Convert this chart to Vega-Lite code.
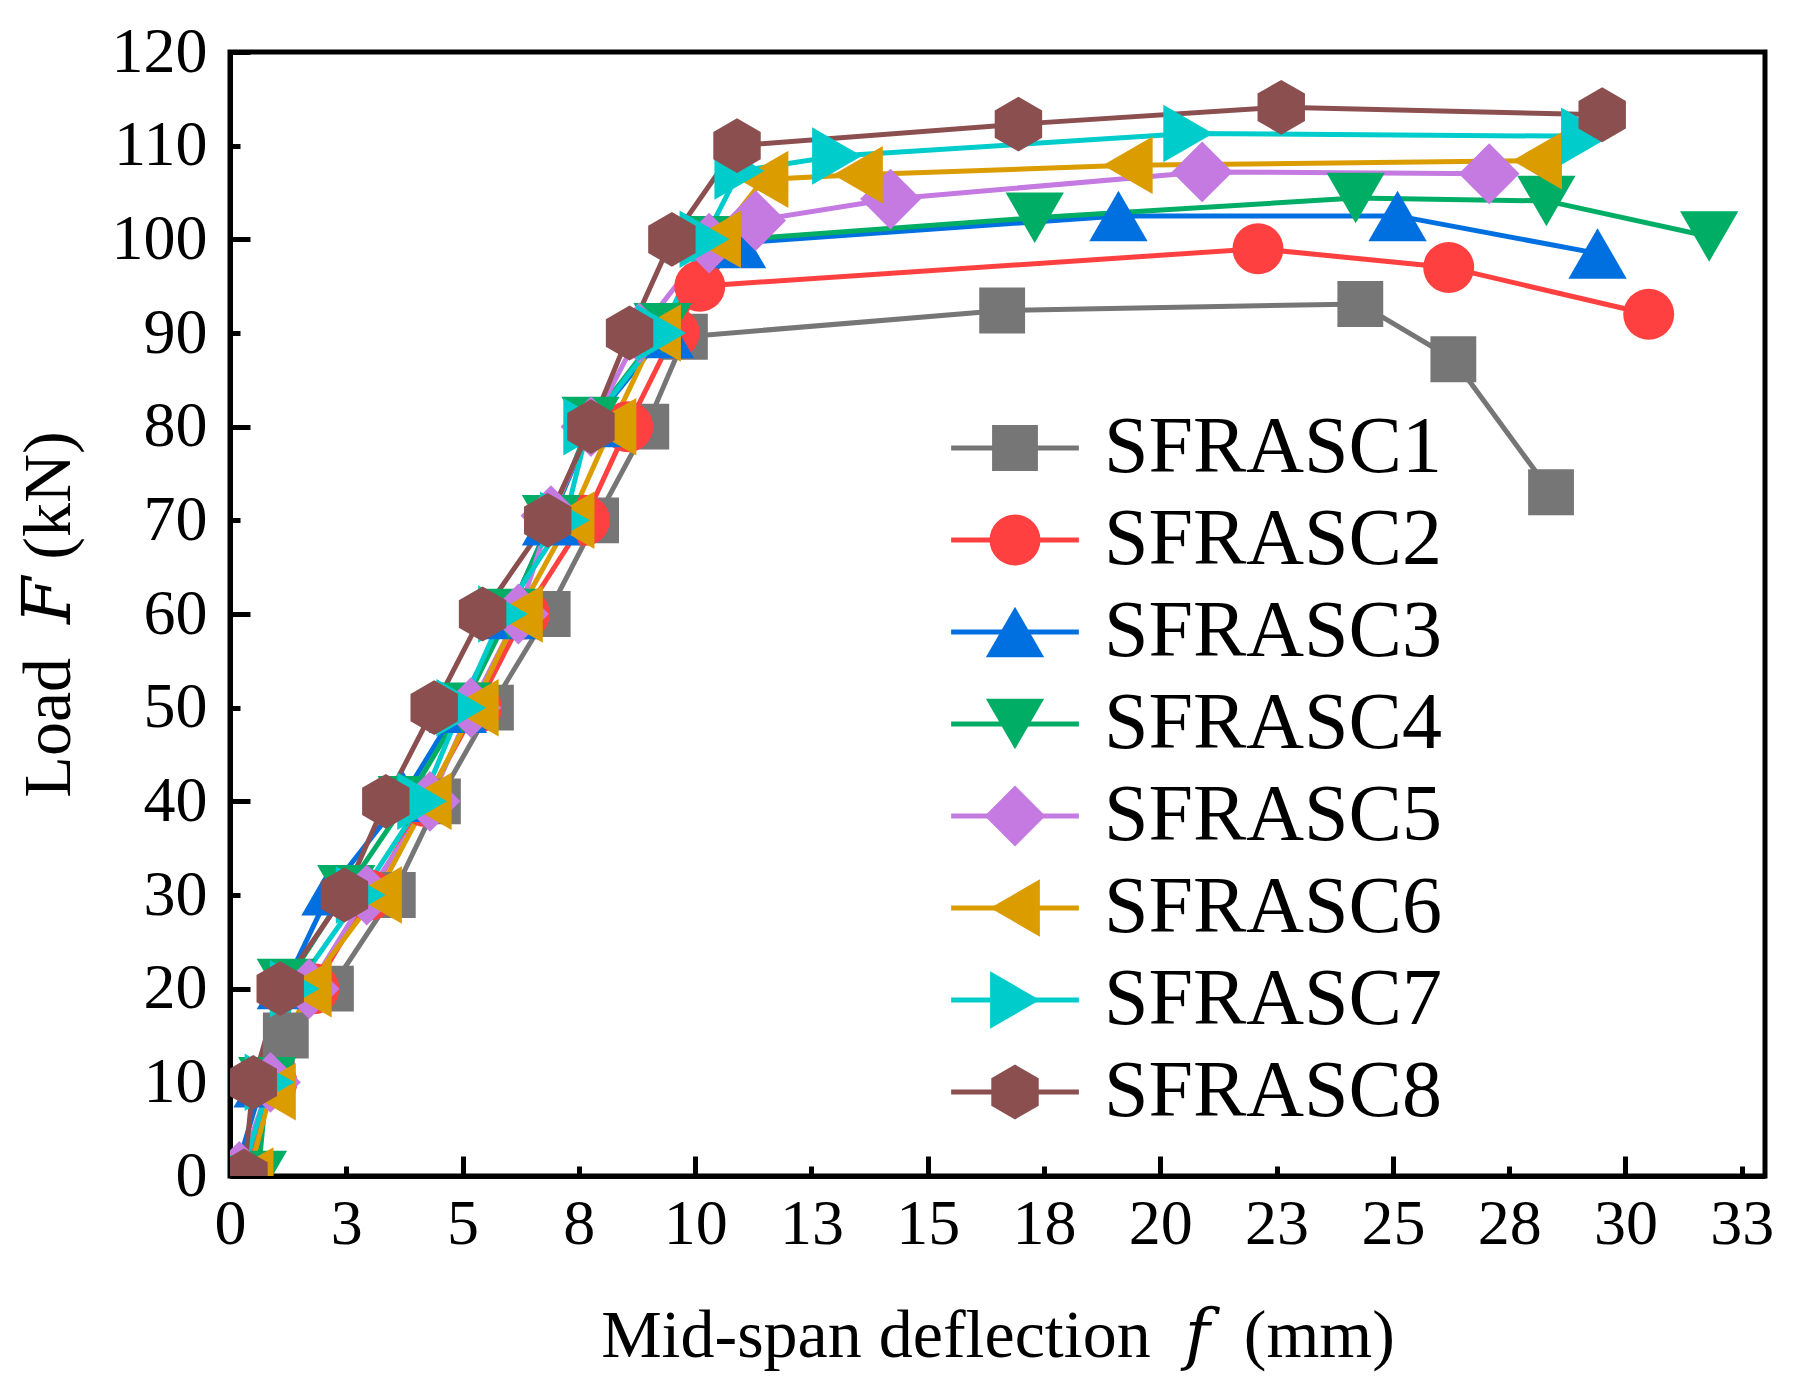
{
  "$schema": "https://vega.github.io/schema/vega-lite/v6.json",
  "background": "white",
  "autosize": {"type": "none"},
  "padding": {"left": 230, "top": 52, "right": 35, "bottom": 212},
  "width": 1535,
  "height": 1124,
  "data": {
    "values": [
      {"series": "SFRASC1", "deflection": 0.3, "load": 0},
      {"series": "SFRASC1", "deflection": 0.9, "load": 10},
      {"series": "SFRASC1", "deflection": 1.2, "load": 15},
      {"series": "SFRASC1", "deflection": 2.17, "load": 20},
      {"series": "SFRASC1", "deflection": 3.5, "load": 30},
      {"series": "SFRASC1", "deflection": 4.47, "load": 40},
      {"series": "SFRASC1", "deflection": 5.61, "load": 50},
      {"series": "SFRASC1", "deflection": 6.83, "load": 60},
      {"series": "SFRASC1", "deflection": 7.87, "load": 70},
      {"series": "SFRASC1", "deflection": 8.95, "load": 80},
      {"series": "SFRASC1", "deflection": 9.78, "load": 89.6},
      {"series": "SFRASC1", "deflection": 16.6, "load": 92.4},
      {"series": "SFRASC1", "deflection": 24.3, "load": 93.1},
      {"series": "SFRASC1", "deflection": 26.3, "load": 87.2},
      {"series": "SFRASC1", "deflection": 28.4, "load": 73},

      {"series": "SFRASC2", "deflection": 0.3, "load": 0},
      {"series": "SFRASC2", "deflection": 0.9, "load": 10},
      {"series": "SFRASC2", "deflection": 1.8, "load": 20},
      {"series": "SFRASC2", "deflection": 3.0, "load": 30},
      {"series": "SFRASC2", "deflection": 4.2, "load": 40},
      {"series": "SFRASC2", "deflection": 5.3, "load": 50},
      {"series": "SFRASC2", "deflection": 6.33, "load": 60},
      {"series": "SFRASC2", "deflection": 7.62, "load": 70},
      {"series": "SFRASC2", "deflection": 8.55, "load": 80},
      {"series": "SFRASC2", "deflection": 9.55, "load": 90},
      {"series": "SFRASC2", "deflection": 10.1, "load": 95},
      {"series": "SFRASC2", "deflection": 22.1, "load": 99},
      {"series": "SFRASC2", "deflection": 26.2, "load": 97},
      {"series": "SFRASC2", "deflection": 30.5, "load": 92},

      {"series": "SFRASC3", "deflection": 0.1, "load": 0},
      {"series": "SFRASC3", "deflection": 0.7, "load": 10},
      {"series": "SFRASC3", "deflection": 1.2, "load": 20.5},
      {"series": "SFRASC3", "deflection": 2.16, "load": 30.5},
      {"series": "SFRASC3", "deflection": 3.73, "load": 40.5},
      {"series": "SFRASC3", "deflection": 4.9, "load": 50},
      {"series": "SFRASC3", "deflection": 6.0, "load": 60},
      {"series": "SFRASC3", "deflection": 6.9, "load": 70},
      {"series": "SFRASC3", "deflection": 7.8, "load": 80.5},
      {"series": "SFRASC3", "deflection": 9.35, "load": 90},
      {"series": "SFRASC3", "deflection": 10.9, "load": 99.6},
      {"series": "SFRASC3", "deflection": 19.1, "load": 102.5},
      {"series": "SFRASC3", "deflection": 25.1, "load": 102.5},
      {"series": "SFRASC3", "deflection": 29.4, "load": 98.5},

      {"series": "SFRASC4", "deflection": 0.6, "load": 0},
      {"series": "SFRASC4", "deflection": 0.8, "load": 10},
      {"series": "SFRASC4", "deflection": 1.2, "load": 20.5},
      {"series": "SFRASC4", "deflection": 2.5, "load": 30.5},
      {"series": "SFRASC4", "deflection": 3.8, "load": 40},
      {"series": "SFRASC4", "deflection": 5.0, "load": 50},
      {"series": "SFRASC4", "deflection": 6.0, "load": 60},
      {"series": "SFRASC4", "deflection": 6.9, "load": 70},
      {"series": "SFRASC4", "deflection": 7.75, "load": 80.5},
      {"series": "SFRASC4", "deflection": 9.3, "load": 90.5},
      {"series": "SFRASC4", "deflection": 10.4, "load": 99.8},
      {"series": "SFRASC4", "deflection": 17.3, "load": 102.3},
      {"series": "SFRASC4", "deflection": 24.2, "load": 104.4},
      {"series": "SFRASC4", "deflection": 28.3, "load": 104.1},
      {"series": "SFRASC4", "deflection": 31.8, "load": 100.3},

      {"series": "SFRASC5", "deflection": 0.2, "load": 0.5},
      {"series": "SFRASC5", "deflection": 0.87, "load": 10},
      {"series": "SFRASC5", "deflection": 1.7, "load": 20},
      {"series": "SFRASC5", "deflection": 2.94, "load": 30},
      {"series": "SFRASC5", "deflection": 4.3, "load": 40},
      {"series": "SFRASC5", "deflection": 5.18, "load": 50},
      {"series": "SFRASC5", "deflection": 6.2, "load": 60},
      {"series": "SFRASC5", "deflection": 6.9, "load": 70.5},
      {"series": "SFRASC5", "deflection": 7.76, "load": 80},
      {"series": "SFRASC5", "deflection": 8.8, "load": 90},
      {"series": "SFRASC5", "deflection": 10.3, "load": 99.6},
      {"series": "SFRASC5", "deflection": 11.3, "load": 102},
      {"series": "SFRASC5", "deflection": 14.2, "load": 104.3},
      {"series": "SFRASC5", "deflection": 20.9, "load": 107.2},
      {"series": "SFRASC5", "deflection": 27.07, "load": 107},

      {"series": "SFRASC6", "deflection": 0.4, "load": 0},
      {"series": "SFRASC6", "deflection": 0.88, "load": 9},
      {"series": "SFRASC6", "deflection": 1.65, "load": 20},
      {"series": "SFRASC6", "deflection": 3.16, "load": 30},
      {"series": "SFRASC6", "deflection": 4.23, "load": 40},
      {"series": "SFRASC6", "deflection": 5.24, "load": 50},
      {"series": "SFRASC6", "deflection": 6.19, "load": 60},
      {"series": "SFRASC6", "deflection": 7.3, "load": 70},
      {"series": "SFRASC6", "deflection": 8.2, "load": 80},
      {"series": "SFRASC6", "deflection": 9.16, "load": 90},
      {"series": "SFRASC6", "deflection": 10.45, "load": 100},
      {"series": "SFRASC6", "deflection": 11.47, "load": 106.4},
      {"series": "SFRASC6", "deflection": 13.5, "load": 106.9},
      {"series": "SFRASC6", "deflection": 19.3, "load": 107.9},
      {"series": "SFRASC6", "deflection": 28.1, "load": 108.4},

      {"series": "SFRASC7", "deflection": 0.25, "load": 0},
      {"series": "SFRASC7", "deflection": 0.85, "load": 10},
      {"series": "SFRASC7", "deflection": 1.39, "load": 20},
      {"series": "SFRASC7", "deflection": 2.81, "load": 30},
      {"series": "SFRASC7", "deflection": 4.13, "load": 40},
      {"series": "SFRASC7", "deflection": 4.97, "load": 50},
      {"series": "SFRASC7", "deflection": 5.87, "load": 60},
      {"series": "SFRASC7", "deflection": 7.2, "load": 70},
      {"series": "SFRASC7", "deflection": 7.7, "load": 80},
      {"series": "SFRASC7", "deflection": 9.27, "load": 90},
      {"series": "SFRASC7", "deflection": 10.2, "load": 100},
      {"series": "SFRASC7", "deflection": 10.95, "load": 107.3},
      {"series": "SFRASC7", "deflection": 13.05, "load": 108.9},
      {"series": "SFRASC7", "deflection": 20.6, "load": 111.3},
      {"series": "SFRASC7", "deflection": 29.15, "load": 111},

      {"series": "SFRASC8", "deflection": 0.3, "load": 0},
      {"series": "SFRASC8", "deflection": 0.5, "load": 10},
      {"series": "SFRASC8", "deflection": 1.08, "load": 20},
      {"series": "SFRASC8", "deflection": 2.46, "load": 30},
      {"series": "SFRASC8", "deflection": 3.35, "load": 40},
      {"series": "SFRASC8", "deflection": 4.39, "load": 50},
      {"series": "SFRASC8", "deflection": 5.43, "load": 60},
      {"series": "SFRASC8", "deflection": 6.83, "load": 70},
      {"series": "SFRASC8", "deflection": 7.76, "load": 80},
      {"series": "SFRASC8", "deflection": 8.59, "load": 90},
      {"series": "SFRASC8", "deflection": 9.5, "load": 100},
      {"series": "SFRASC8", "deflection": 10.9, "load": 110},
      {"series": "SFRASC8", "deflection": 16.95, "load": 112.3},
      {"series": "SFRASC8", "deflection": 22.6, "load": 114.1},
      {"series": "SFRASC8", "deflection": 29.5, "load": 113.3}
    ]
  },
  "layer": [
    {
      "description": "connecting lines, minor ticks and labels",
      "mark": {"type": "line", "strokeWidth": 5, "clip": true},
      "encoding": {
        "x": {
          "field": "deflection", "type": "quantitative",
          "scale": {"domain": [0, 33], "nice": false, "zero": false},
          "axis": {
            "orient": "bottom",
            "values": [0, 2.5, 5, 7.5, 10, 12.5, 15, 17.5, 20, 22.5, 25, 27.5, 30, 32.5],
            "format": ".0f",
            "tickSize": -10,
            "labelPadding": 26,
            "titlePadding": 46,
            "title": "Mid-span deflection \u00a0𝑓\u00a0 (mm)"
          }
        },
        "y": {
          "field": "load", "type": "quantitative",
          "scale": {"domain": [0, 120], "nice": false},
          "axis": {
            "orient": "left",
            "values": [0, 10, 20, 30, 40, 50, 60, 70, 80, 90, 100, 110, 120],
            "tickSize": -10,
            "labelPadding": 33,
            "titlePadding": 28,
            "title": "Load \u00a0𝐹\u00a0(kN)"
          }
        },
        "stroke": {
          "field": "series", "type": "nominal",
          "scale": {
            "domain": ["SFRASC1", "SFRASC2", "SFRASC3", "SFRASC4", "SFRASC5", "SFRASC6", "SFRASC7", "SFRASC8"],
            "range": ["#767676", "#FF4040", "#0070E0", "#00AD65", "#C47AE0", "#DB9C00", "#00CCCC", "#8C4F50"]
          },
          "legend": {
            "orient": "none", "legendX": 745, "legendY": 356,
            "title": null, "symbolType": "M-2.1,0L2.1,0", "symbolSize": 3700, "symbolStrokeWidth": 5,
            "labelFontSize": 80, "labelOffset": 49, "rowPadding": 12, "padding": 0
          }
        }
      }
    },
    {
      "description": "markers, major ticks",
      "mark": {"type": "point", "filled": true, "opacity": 1, "clip": true},
      "encoding": {
        "x": {
          "field": "deflection", "type": "quantitative",
          "axis": {
            "orient": "bottom", "values": [0, 5, 10, 15, 20, 25, 30],
            "tickSize": -20, "labels": false, "domain": false, "title": null
          }
        },
        "y": {
          "field": "load", "type": "quantitative",
          "axis": {
            "orient": "left", "values": [0, 20, 40, 60, 80, 100, 120],
            "tickSize": -20, "labels": false, "domain": false, "title": null
          }
        },
        "fill": {
          "field": "series", "type": "nominal",
          "scale": {"range": ["#767676", "#FF4040", "#0070E0", "#00AD65", "#C47AE0", "#DB9C00", "#00CCCC", "#8C4F50"]},
          "legend": {
            "orient": "none", "legendX": 745, "legendY": 356,
            "title": null, "labelFontSize": 80, "labelOpacity": 0, "labelOffset": 49, "rowPadding": 12, "padding": 0,
            "symbolStrokeWidth": 0
          }
        },
        "shape": {
          "field": "series", "type": "nominal",
          "scale": {"range": ["square", "circle", "triangle-up", "triangle-down", "diamond", "triangle-left", "triangle-right", "M0,-1L0.866,-0.5L0.866,0.5L0,1L-0.866,0.5L-0.866,-0.5Z"]}
        },
        "size": {
          "field": "series", "type": "nominal",
          "scale": {"type": "ordinal", "range": [2100, 2600, 3400, 3400, 3700, 3300, 3300, 3000]}
        }
      }
    }
  ],
  "resolve": {"axis": {"x": "independent", "y": "independent"}},
  "config": {
    "font": "Liberation Serif",
    "view": {"stroke": "black", "strokeWidth": 5},
    "axis": {
      "grid": false,
      "domainColor": "black", "domainWidth": 5,
      "tickColor": "black", "tickWidth": 5,
      "labelFont": "Liberation Serif", "labelFontSize": 64, "labelColor": "black",
      "titleFont": "Liberation Serif, DejaVu Serif", "titleFontSize": 68, "titleFontWeight": "normal", "titleColor": "black",
      "labelFlush": false, "labelOverlap": false
    },
    "legend": {"labelFont": "Liberation Serif", "labelColor": "black", "labelLimit": 0}
  }
}
